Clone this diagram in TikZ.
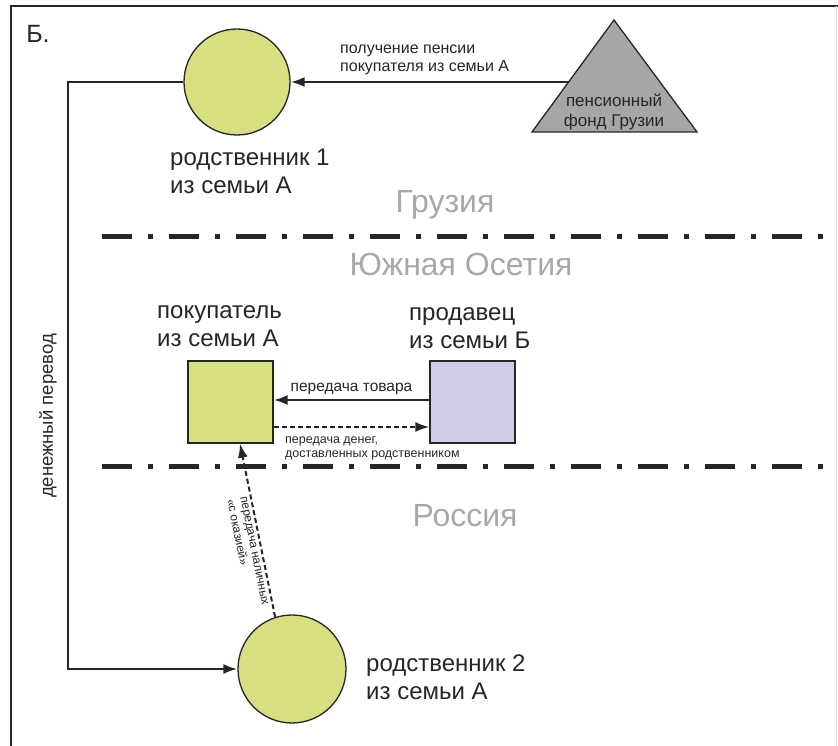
\documentclass[tikz,border=0pt]{standalone}
\usepackage{fontspec}
\setmainfont{Liberation Sans}
\usetikzlibrary{arrows.meta}
\definecolor{famA}{HTML}{D8DF80}
\definecolor{famB}{HTML}{CFCCE6}
\definecolor{fundgray}{HTML}{A6A6A6}
\definecolor{ctry}{HTML}{A8A8A8}
\definecolor{ink}{HTML}{262626}
\begin{document}
\begin{tikzpicture}[x=1pt,y=1pt,
  person/.style={circle, draw=ink, line width=1.3pt, fill=famA, minimum size=106pt, inner sep=0pt},
  box/.style={rectangle, draw=ink, line width=1.3pt, minimum width=85pt, minimum height=82pt, inner sep=0pt},
  conn/.style={draw=ink, line width=2.3pt},
  tip/.style={-{Latex[length=14pt,width=10pt]}},
  dconn/.style={draw=ink, line width=2pt, dash pattern=on 5pt off 3pt},
  big/.style={font=\fontsize{24}{28}\selectfont, text=ink, align=left, inner sep=0pt},
  mid/.style={font=\fontsize{16}{18}\selectfont, text=ink, align=left, inner sep=0pt},
  fundtxt/.style={font=\fontsize{17}{20}\selectfont, text=ink, align=center, inner sep=0pt},
  tinytxt/.style={font=\fontsize{12.5}{13.5}\selectfont, text=ink, align=left, inner sep=0pt},
  diagtxt/.style={font=\fontsize{12}{13.5}\selectfont, text=ink, align=left, inner sep=2pt},
  country/.style={font=\fontsize{32}{36}\selectfont, text=ctry, inner sep=0pt},
  borderline/.style={line width=5pt, draw=ink, dash pattern=on 30pt off 16pt on 5pt off 16pt}
]
\useasboundingbox (0,0) rectangle (838,746);
% frame
\draw[line width=2.5pt, ink] (11,-5) -- (11,740) -- (843,740);
\draw[line width=1pt, black!12] (836,0) -- (836,740);
% letter
\node[font=\fontsize{25}{28}\selectfont, text=ink, inner sep=0pt] (letter) at (38,712) {Б.};
% borders
\coordinate (b1s) at (102,509);
\coordinate (b1e) at (838,509);
\coordinate (b2s) at (102,279);
\coordinate (b2e) at (838,279);
\draw[borderline] (b1s) -- (b1e);
\draw[borderline] (b2s) -- (b2e);
% country names
\node[country] (geo) at (445,541) {Грузия};
\node[country] (oss) at (461,482) {Южная Осетия};
\node[country] (rus) at (465,230) {Россия};
% persons
\node[person] (c1) at (237,664) {};
\node[person, minimum size=108pt] (c2) at (292,77) {};
\node[big, anchor=west] (c1l) at (170,575) {родственник 1\\из семьи А};
\node[big, anchor=west] (c2l) at (366,69) {родственник 2\\из семьи А};
% squares
\node[box, fill=famA] (buyer) at (230.5,344) {};
\node[box, fill=famB] (seller) at (472.5,344) {};
\node[big, anchor=west] (buyerl) at (157,420) {покупатель\\из семьи А};
\node[big, anchor=west] (sellerl) at (409,417.5) {продавец\\из семьи Б};
% fund triangle
\draw[fill=fundgray, draw=ink, line width=1.3pt] (532,614) -- (614,726) -- (697,614) -- cycle;
\node[fundtxt] (fund) at (614,634) {пенсионный\\фонд Грузии};
\coordinate (fundL) at (568.6,664);
% connectors
\draw[conn, tip] (fundL) -- (c1.east);
\node[mid, anchor=west] (pensl) at (340,686) {получение пенсии\\покупателя из семьи А};
\coordinate (lc) at (68,0);
\draw[conn, tip] (c1.west) -| (lc |- c2.west) -- (c2.west);
\node[font=\fontsize{18.5}{20}\selectfont, text=ink, rotate=90, inner sep=0pt] (transfer) at (48,330) {денежный перевод};
\draw[conn, tip] ([yshift=2pt]seller.west) -- ([yshift=2pt]buyer.east)
  node[midway, above=4pt, font=\fontsize{15.5}{17}\selectfont, text=ink, inner sep=0pt] (goods) {передача товара};
\draw[dconn, tip] ([yshift=-25pt]buyer.east) -- ([yshift=-25pt]seller.west);
\node[tinytxt, anchor=west] (moneyl) at (285,297.5) {передача денег,\\доставленных родственником};
\draw[dconn, tip] (c2.108) -- ([xshift=9.5pt]buyer.south)
  node[pos=0.39, sloped, below=1pt, diagtxt] (cashl) {передача наличных\\«с оказией»};
\end{tikzpicture}
\end{document}
